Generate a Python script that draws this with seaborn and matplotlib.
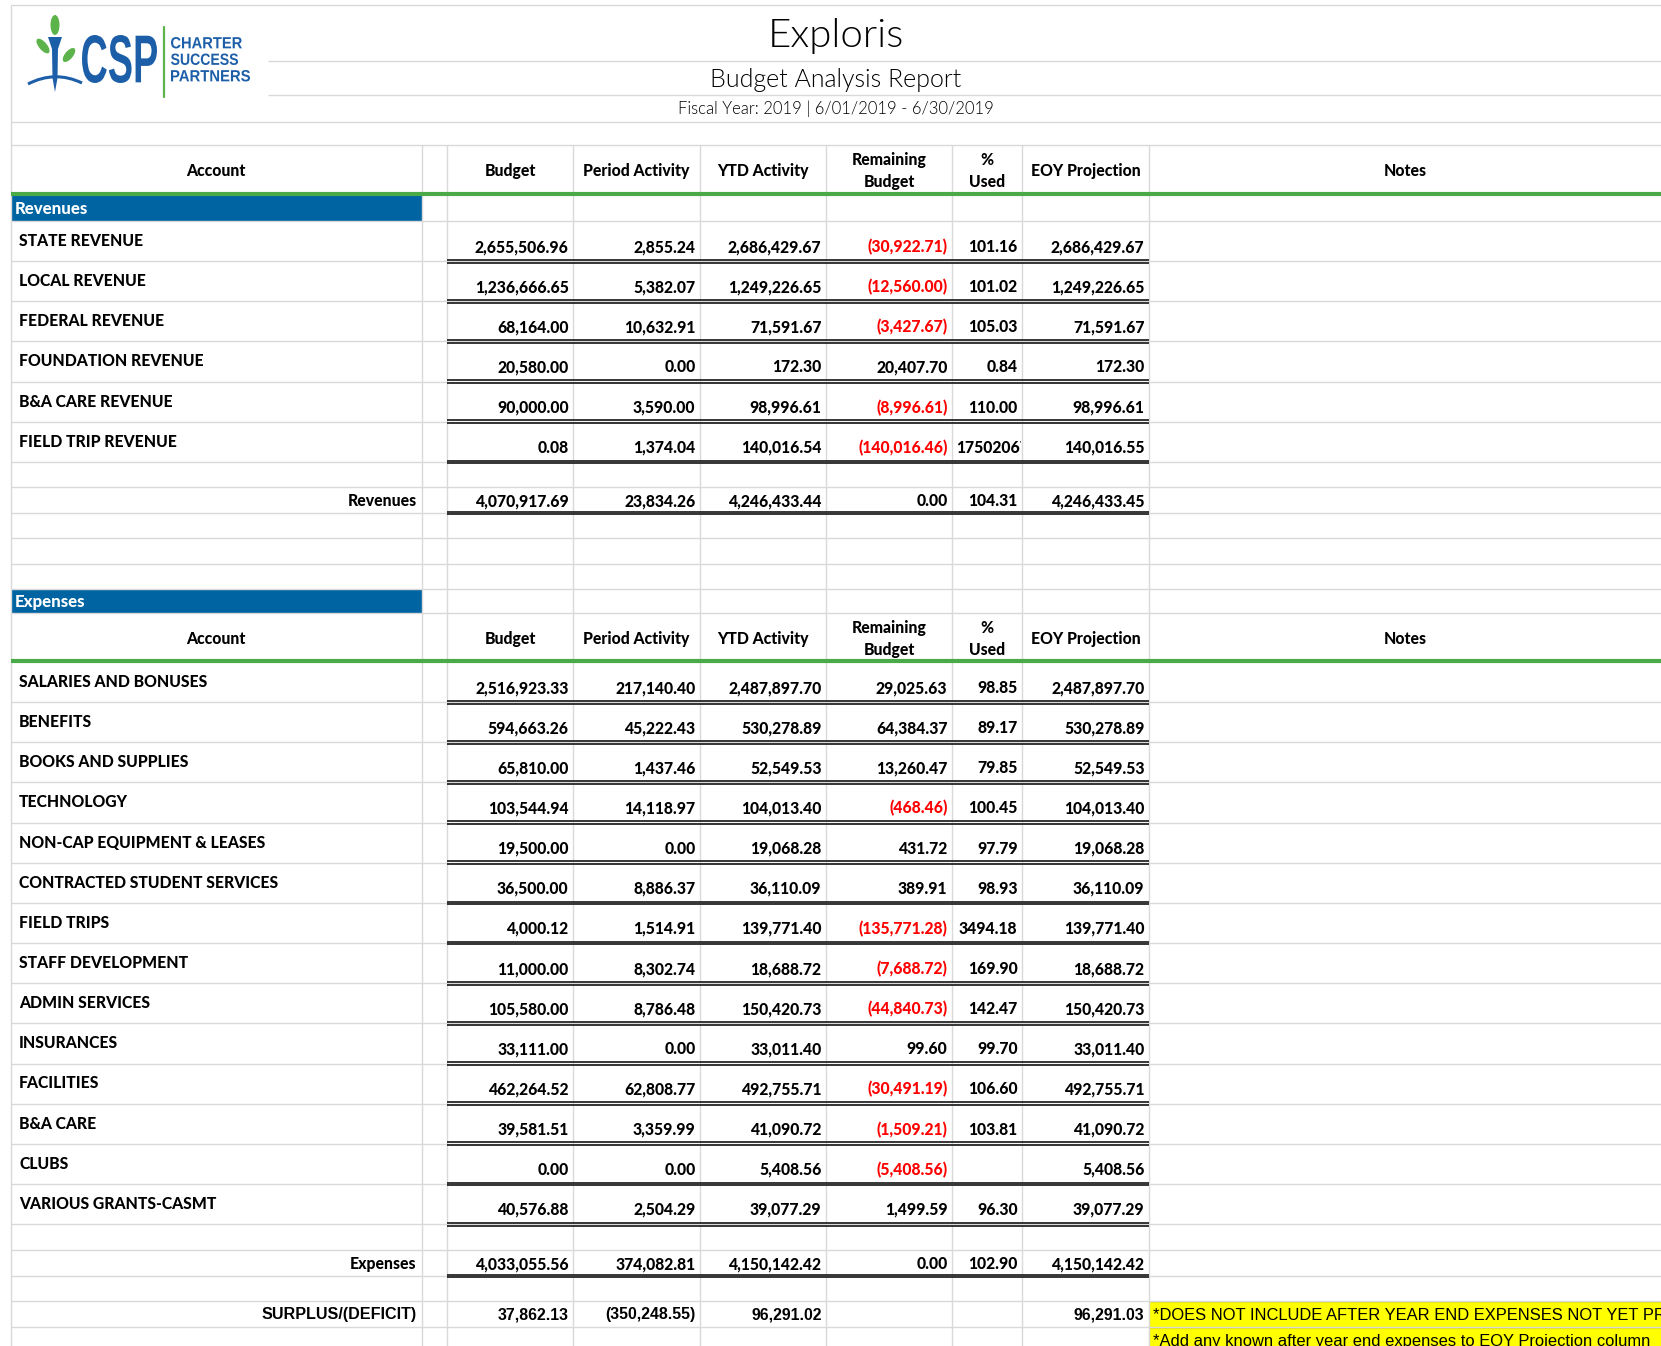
import matplotlib
matplotlib.use("Agg")
import matplotlib.pyplot as plt
import seaborn as sns
from matplotlib.patches import Rectangle, Ellipse, Polygon, PathPatch
from matplotlib.path import Path
from matplotlib.textpath import TextPath
from matplotlib.font_manager import FontProperties
from matplotlib.transforms import Bbox
import matplotlib.transforms as mtransforms

# ---- data ----
columns = ["Budget", "Period Activity", "YTD Activity", "Remaining\nBudget", "%\nUsed", "EOY Projection"]

rev_accounts = ["STATE REVENUE", "LOCAL REVENUE", "FEDERAL REVENUE", "FOUNDATION REVENUE",
                "B&A CARE REVENUE", "FIELD TRIP REVENUE"]
rev_budget = [2655506.96, 1236666.65, 68164.00, 20580.00, 90000.00, 0.08]
rev_period = [2855.24, 5382.07, 10632.91, 0.00, 3590.00, 1374.04]
rev_ytd = [2686429.67, 1249226.65, 71591.67, 172.30, 98996.61, 140016.54]
rev_remaining = [-30922.71, -12560.00, -3427.67, 20407.70, -8996.61, -140016.46]
rev_used = [101.16, 101.02, 105.03, 0.84, 110.00, 175020675.00]
rev_eoy = [2686429.67, 1249226.65, 71591.67, 172.30, 98996.61, 140016.55]
rev_total = [4070917.69, 23834.26, 4246433.44, 0.00, 104.31, 4246433.45]

exp_accounts = ["SALARIES AND BONUSES", "BENEFITS", "BOOKS AND SUPPLIES", "TECHNOLOGY",
                "NON-CAP EQUIPMENT & LEASES", "CONTRACTED STUDENT SERVICES", "FIELD TRIPS",
                "STAFF DEVELOPMENT", "ADMIN SERVICES", "INSURANCES", "FACILITIES", "B&A CARE",
                "CLUBS", "VARIOUS GRANTS-CASMT"]
exp_budget = [2516923.33, 594663.26, 65810.00, 103544.94, 19500.00, 36500.00, 4000.12,
              11000.00, 105580.00, 33111.00, 462264.52, 39581.51, 0.00, 40576.88]
exp_period = [217140.40, 45222.43, 1437.46, 14118.97, 0.00, 8886.37, 1514.91,
              8302.74, 8786.48, 0.00, 62808.77, 3359.99, 0.00, 2504.29]
exp_ytd = [2487897.70, 530278.89, 52549.53, 104013.40, 19068.28, 36110.09, 139771.40,
           18688.72, 150420.73, 33011.40, 492755.71, 41090.72, 5408.56, 39077.29]
exp_remaining = [29025.63, 64384.37, 13260.47, -468.46, 431.72, 389.91, -135771.28,
                 -7688.72, -44840.73, 99.60, -30491.19, -1509.21, -5408.56, 1499.59]
exp_used = [98.85, 89.17, 79.85, 100.45, 97.79, 98.93, 3494.18,
            169.90, 142.47, 99.70, 106.60, 103.81, None, 96.30]
exp_eoy = [2487897.70, 530278.89, 52549.53, 104013.40, 19068.28, 36110.09, 139771.40,
           18688.72, 150420.73, 33011.40, 492755.71, 41090.72, 5408.56, 39077.29]
exp_total = [4033055.56, 374082.81, 4150142.42, 0.00, 102.90, 4150142.42]

surplus = [37862.13, -350248.55, 96291.02, None, None, 96291.03]

notes = ["*DOES NOT INCLUDE AFTER YEAR END EXPENSES NOT YET PROCESSED",
         "*Add any known after year end expenses to EOY Projection column"]

# ---- layout ----
W, H = 1661, 1346
col_x = [10.5, 421.5, 447, 573, 700, 826, 952, 1022, 1149, W]
row_h = 40.15
rev_top = 221
exp_top = 662
grid = "#d9d9d9"
dark = "#262626"
blue = "#0064a3"
green = "#4aaa48"
red = "#ff0000"
logo_blue = "#1c5fa8"
logo_green = "#5cb34a"

sns.set_theme(style="white")
plt.rcParams["font.family"] = ["Lato", "DejaVu Sans"]
plt.rcParams["text.color"] = "black"

fig = plt.figure(figsize=(W / 100, H / 100), dpi=100)
ax = fig.add_axes([0, 0, 1, 1])
ax.set_xlim(0, W)
ax.set_ylim(H, 0)
ax.axis("off")

FS = 11.3
BW = "black"  # heaviest Lato weight available


def fmt(v):
    if v is None:
        return ""
    s = f"{abs(v):,.2f}"
    return f"({s})" if v < 0 else s


def hline(y, x0=col_x[0], x1=W, color=grid, lw=1.0):
    ax.plot([x0, x1], [y, y], color=color, lw=lw, solid_capstyle="butt")


def double(y):
    ax.plot([col_x[2], col_x[8]], [y - 1.4, y - 1.4], color=dark, lw=1.3, solid_capstyle="butt")
    ax.plot([col_x[2], col_x[8]], [y + 1.4, y + 1.4], color=dark, lw=1.3, solid_capstyle="butt")


# grid lines
row_edges = [122, 145, 221]
row_edges += [rev_top + row_h * i for i in range(1, 7)]
row_edges += [487, 513, 538, 564, 589, 613]
row_edges += [exp_top + row_h * i for i in range(1, 15)]
row_edges += [1250, 1276, 1301, 1327]
for y in row_edges:
    hline(y)
hline(5)
hline(61, 268)
hline(95, 268)
ax.plot([col_x[0], col_x[0]], [5, H], color=grid, lw=1.0)
for x in col_x[1:-1]:
    ax.plot([x, x], [145, H], color=grid, lw=1.0)

# green header rules
hline(194, color=green, lw=3)
hline(661, color=green, lw=3)

# section bands
for (y0, y1, name) in [(194.5, 221, "Revenues"), (589, 613, "Expenses")]:
    ax.add_patch(Rectangle((col_x[0], y0), col_x[1] - col_x[0], y1 - y0, fc=blue, ec="none"))
    ax.text(15, (y0 + y1) / 2 + 1, name, color="white", fontsize=FS + 0.8, fontweight=BW,
            ha="left", va="center")

# column headers
for top in [145, 613]:
    ax.text((col_x[0] + col_x[1]) / 2, top + 26, "Account", fontsize=FS, fontweight=BW,
            ha="center", va="center")
    ax.text((col_x[8] + col_x[9]) / 2, top + 26, "Notes", fontsize=FS, fontweight=BW,
            ha="center", va="center")
    for i, name in enumerate(columns):
        ax.text((col_x[i + 2] + col_x[i + 3]) / 2, top + 26, name, fontsize=FS, fontweight=BW,
                ha="center", va="center", linespacing=1.5)


def value_cell(ci, y, v, color="black", pct=False, family=None, size=FS):
    x0, x1 = col_x[ci + 2], col_x[ci + 3]
    if v is None:
        return
    s = f"{v:.2f}" if pct else fmt(v)
    kw = dict(fontsize=size, fontweight=BW, va="center", color=color)
    if family:
        kw["family"] = family
        kw["fontweight"] = "bold"
    if pct and len(s) > 7:
        t = ax.text(x0 + 4, y, s, ha="left", **kw)
        p0 = ax.transData.transform((x0, y - 20))
        p1 = ax.transData.transform((x1 - 1, y + 20))
        t.set_clip_box(Bbox.from_extents(min(p0[0], p1[0]), min(p0[1], p1[1]),
                                         max(p0[0], p1[0]), max(p0[1], p1[1])))
        t.set_clip_on(True)
    else:
        ax.text(x1 - 4.5, y, s, ha="right", **kw)


def section(top, accounts, cols):
    for r, acc in enumerate(accounts):
        y0 = top + row_h * r
        ax.text(19, y0 + 20, acc, fontsize=FS, fontweight=BW, ha="left", va="center")
        for ci, arr in enumerate(cols):
            v = arr[r]
            color = red if (ci == 3 and v is not None and v < 0) else "black"
            value_cell(ci, y0 + 26, v, color=color, pct=(ci == 4))
        double(y0 + row_h)


section(rev_top, rev_accounts, [rev_budget, rev_period, rev_ytd, rev_remaining, rev_used, rev_eoy])
section(exp_top, exp_accounts, [exp_budget, exp_period, exp_ytd, exp_remaining, exp_used, exp_eoy])

# totals
for (y0, y1, label, vals) in [(487, 513, "Revenues", rev_total), (1250, 1276, "Expenses", exp_total)]:
    yc = (y0 + y1) / 2 + 1
    ax.text(col_x[1] - 5, yc, label, fontsize=FS, fontweight=BW, ha="right", va="center")
    for ci, v in enumerate(vals):
        value_cell(ci, yc, v, pct=(ci == 4))
    double(y1)

# surplus row
yc = 1314.5
ax.text(col_x[1] - 5, yc, "SURPLUS/(DEFICIT)", fontsize=11.6, fontweight="bold",
        family="Liberation Sans", ha="right", va="center")
for ci, v in enumerate(surplus):
    value_cell(ci, yc, v, family="Liberation Sans", size=11.4)

# yellow notes
for i, (y0, y1) in enumerate([(1301.5, 1327), (1327.5, 1353)]):
    ax.add_patch(Rectangle((col_x[8], y0), W - col_x[8], y1 - y0, fc="#ffff00", ec="#e6e600", lw=0.8))
    ax.text(col_x[8] + 4, (y0 + y1) / 2 + 1, notes[i], fontsize=11.9, family="Liberation Sans",
            ha="left", va="center", clip_on=True)

# titles
ax.text(836, 36, "Exploris", fontsize=29, fontweight=300, ha="center", va="center")
ax.text(836, 80, "Budget Analysis Report", fontsize=18, fontweight=300, ha="center", va="center")
ax.text(836, 109, "Fiscal Year: 2019 | 6/01/2019 - 6/30/2019", fontsize=12, fontweight=300,
        ha="center", va="center")

# ---- logo ----
ax.add_patch(Rectangle((17, 8), 251, 95, fc="white", ec="none", zorder=3))


def path_text(s, x, y, w, h, color):
    tp = TextPath((0, 0), s, size=100, prop=FontProperties(family="Liberation Sans", weight="bold"))
    bb = tp.get_extents()
    tr = (mtransforms.Affine2D().translate(-bb.x0, -bb.y0)
          .scale(w / bb.width, -h / bb.height).translate(x, y + h))
    ax.add_patch(PathPatch(tr.transform_path(tp), fc=color, ec="none", zorder=4))


path_text("CSP", 82, 35, 75, 48, logo_blue)
path_text("CHARTER", 171, 37, 71, 11.5, logo_blue)
path_text("SUCCESS", 171, 53.5, 67, 11.5, logo_blue)
path_text("PARTNERS", 171, 70, 79, 11.5, logo_blue)
ax.plot([163.5, 163.5], [27, 97], color=logo_green, lw=1.6, zorder=4)

ax.add_patch(Ellipse((55, 25), 9, 20, fc=logo_green, ec="none", zorder=4))
ax.add_patch(Ellipse((43, 46), 8, 18, angle=-40, fc=logo_green, ec="none", zorder=4))
ax.add_patch(Ellipse((69, 55), 8, 17, angle=40, fc=logo_green, ec="none", zorder=4))
ax.add_patch(Polygon([(48, 37), (62, 37), (58, 49), (57.5, 78), (55, 92), (52.5, 78), (52, 49)],
                     closed=True, fc=logo_blue, ec="none", zorder=4))
arch = Path([(28, 84), (55, 70), (82, 83)], [Path.MOVETO, Path.CURVE3, Path.CURVE3])
ax.add_patch(PathPatch(arch, fc="none", ec=logo_blue, lw=2.2, zorder=4))

fig.savefig("out.png", dpi=100)
